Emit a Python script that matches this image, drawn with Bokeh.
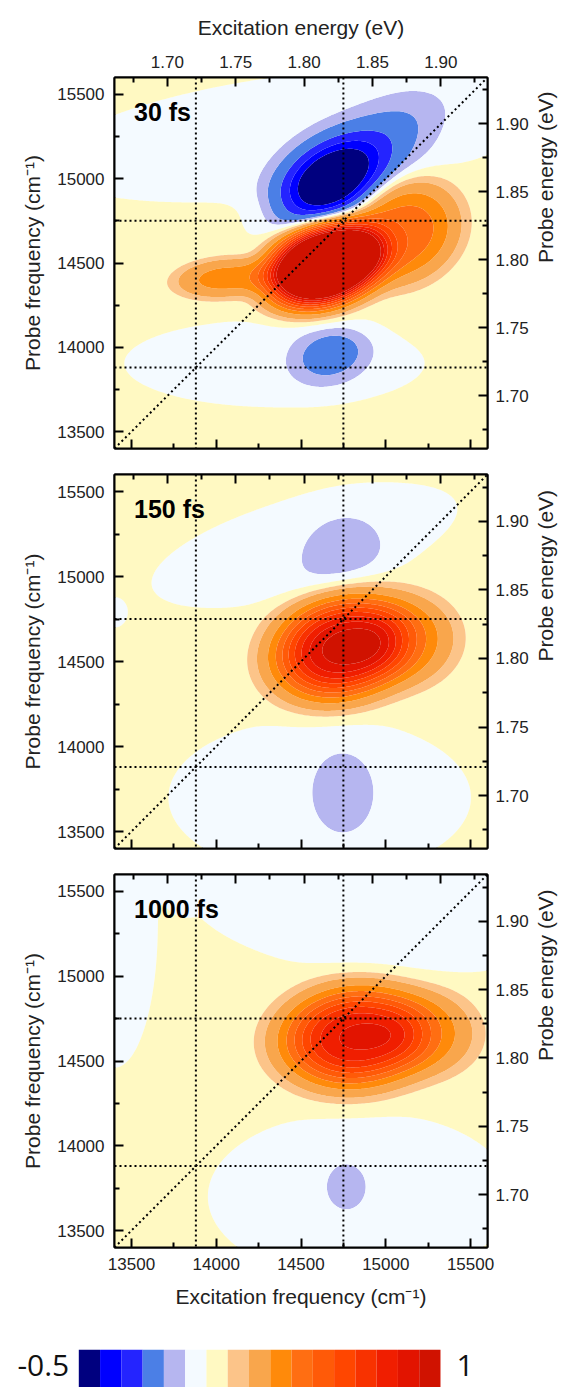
import numpy as np
from bokeh.plotting import figure
from bokeh.models import LinearAxis, Range1d, FixedTicker, PrintfTickFormatter, CustomJSTickFormatter, Span, Slope, Label
from bokeh.layouts import column
from bokeh.embed import file_html
from bokeh.resources import INLINE
from bokeh.core.properties import value

CM_PER_EV = 8065.544

# contour levels (colour bar runs from -0.5 to 1)
LEVELS = [-0.5, -0.4, -0.3, -0.2, -0.1, -0.05, 0.0, 0.05, 0.1, 0.2, 0.3, 0.4, 0.5, 0.6, 0.7, 0.8, 0.9, 1.0]
PALETTE = ["#00007f", "#0000ff", "#2424ff", "#4b7fe6", "#b6b6f0", "#f4faff",
           "#fff9c2", "#fcc489", "#f9a64c", "#ff8a0a", "#ff6e12", "#ff5a08",
           "#ff4600", "#f83200", "#f01e00", "#e21400", "#d01200"]

FREQ_RANGE = [13400, 15600]
FREQ_TICKS = [13500, 14000, 14500, 15000, 15500]
FREQ_MINOR = [13750, 14250, 14750, 15250]
EV_TICKS = [1.70, 1.75, 1.80, 1.85, 1.90]
EV_MINOR = [1.675, 1.725, 1.775, 1.825, 1.875, 1.925]
GUIDE_EXC = [13880, 14750]
GUIDE_PROBE = [13880, 14750]
DELAYS = ["30 fs", "150 fs", "1000 fs"]
BASELINE = [0.012, 0.012, 0.012]

# spectral components: amplitude, centre (exc, probe), widths, tilt, shape
A30 = [1.80, 0.35, 0.22, -0.62, -0.12, -0.15, -0.032, -0.032]
X30 = [14645, 15100, 14050, 14670, 14950, 14675, 14500, 14343]
Y30 = [14490, 14680, 14410, 14985, 15200, 13955, 15260, 13905]
SX30 = [230, 230, 200, 205, 280, 150, 1064, 628]
SY30 = [150, 190, 80, 135, 140, 104, 255, 184]
TH30 = [20, 30, 5, 32, 35, 15, 7, 0]
P30 = [1.5, 1.5, 1.5, 1.0, 1.0, 1.0, 3, 3]

A150 = [0.92, 0.22, -0.065, -0.065, -0.032, -0.032, -0.032]
X150 = [14740, 15120, 14741, 14747, 14520, 14610, 13400]
Y150 = [14580, 14620, 15125, 13729, 15180, 13700, 14788]
SX150 = [265, 200, 198, 145, 660, 633, 55]
SY150 = [190, 170, 170, 190, 202, 330, 63]
TH150 = [15, 10, 30, 0, 15, 0, 0]
P150 = [1.4, 1.3, 1.0, 1.0, 3, 3, 2]

A1000 = [0.80, 0.18, -0.065, -0.032, -0.045, -0.032, -0.032]
X1000 = [14820, 15250, 14767, 14850, 14950, 13400, 13800]
Y1000 = [14640, 14660, 13758, 13700, 15470, 15300, 15650]
SX1000 = [285, 200, 92, 638, 780, 181, 110]
SY1000 = [190, 160, 107, 356, 318, 596, 200]
TH1000 = [5, 0, 0, 0, -5, 0, 0]
P1000 = [1.4, 1.3, 1.0, 3, 3, 3, 3]

PANELS = [
    (A30, X30, Y30, SX30, SY30, TH30, P30),
    (A150, X150, Y150, SX150, SY150, TH150, P150),
    (A1000, X1000, Y1000, SX1000, SY1000, TH1000, P1000),
]

XS = np.linspace(FREQ_RANGE[0], FREQ_RANGE[1], 221)
YS = np.linspace(FREQ_RANGE[0], FREQ_RANGE[1], 221)
GX, GY = np.meshgrid(XS, YS)


def field(comps, base):
    z = np.full(GX.shape, base, dtype=float)
    for a, x0, y0, sx, sy, th, pw in zip(*comps):
        t = np.deg2rad(th)
        dx = GX - x0
        dy = GY - y0
        u = dx * np.cos(t) + dy * np.sin(t)
        v = -dx * np.sin(t) + dy * np.cos(t)
        q = 0.5 * ((u / sx) ** 2 + (v / sy) ** 2)
        z += a * np.exp(-q ** pw)
    return np.clip(z, LEVELS[0] + 1e-4, LEVELS[-1] - 1e-4)


TICK_FONT = "Liberation Sans"
TICK_SIZE = "17px"
TITLE_SIZE = "21px"


def style_axis(ax, ticks, minor, fmt, show_labels, title=None, standoff=10, title_standoff=10):
    ax.ticker = FixedTicker(ticks=ticks, minor_ticks=minor)
    ax.axis_line_color = "black"
    ax.axis_line_width = 2
    ax.major_tick_in = 9
    ax.major_tick_out = 0
    ax.minor_tick_in = 5
    ax.minor_tick_out = 0
    ax.major_tick_line_width = 2
    ax.minor_tick_line_width = 2
    ax.major_tick_line_color = "black"
    ax.minor_tick_line_color = "black"
    ax.major_label_text_font = TICK_FONT
    ax.major_label_text_font_size = TICK_SIZE
    ax.major_label_text_color = "#222222"
    if show_labels:
        ax.formatter = fmt
        ax.major_label_standoff = standoff
    else:
        ax.formatter = CustomJSTickFormatter(code="return ''")
        ax.major_label_standoff = 0
    if title:
        ax.axis_label = title
        ax.axis_label_text_font = TICK_FONT
        ax.axis_label_text_font_size = TITLE_SIZE
        ax.axis_label_text_font_style = "normal"
        ax.axis_label_text_color = "#222222"
        ax.axis_label_standoff = title_standoff


def make_panel(idx, height, top, bottom):
    p = figure(width=572, height=height,
               x_range=Range1d(FREQ_RANGE[0], FREQ_RANGE[1]),
               y_range=Range1d(FREQ_RANGE[0], FREQ_RANGE[1]),
               x_axis_type=None, y_axis_type=None,
               output_backend="svg", toolbar_location=None,
               min_border_left=114, min_border_right=85,
               min_border_top=top, min_border_bottom=bottom,
               outline_line_color="black", outline_line_width=2,
               background_fill_color="white", border_fill_color="white")
    ev_lo = FREQ_RANGE[0] / CM_PER_EV
    ev_hi = FREQ_RANGE[1] / CM_PER_EV
    p.extra_x_ranges = {"ev": Range1d(ev_lo, ev_hi)}
    p.extra_y_ranges = {"ev": Range1d(ev_lo, ev_hi)}

    z = field(PANELS[idx], BASELINE[idx])
    p.contour(x=XS, y=YS, z=z, levels=LEVELS, fill_color=PALETTE, line_color=None)

    for v in GUIDE_EXC:
        p.add_layout(Span(location=v, dimension="height", line_color="black",
                          line_dash="2 3", line_width=2))
    for v in GUIDE_PROBE:
        p.add_layout(Span(location=v, dimension="width", line_color="black",
                          line_dash="2 3", line_width=2))
    p.add_layout(Slope(gradient=1, y_intercept=0, line_color="black",
                       line_dash="2 3", line_width=2))

    p.add_layout(Label(x=13515, y=15480, text=DELAYS[idx], text_font=TICK_FONT,
                       text_font_style="bold", text_font_size="25px",
                       text_baseline="top", text_color="black"))

    cm_fmt = PrintfTickFormatter(format="%d")
    ev_fmt = PrintfTickFormatter(format="%.2f")

    left = LinearAxis()
    style_axis(left, FREQ_TICKS, FREQ_MINOR, cm_fmt, True,
               "Probe frequency (cm\u207b\u00b9)", standoff=10, title_standoff=10)
    p.add_layout(left, "left")

    right = LinearAxis(y_range_name="ev")
    style_axis(right, EV_TICKS, EV_MINOR, ev_fmt, True,
               "Probe energy (eV)", standoff=8, title_standoff=14)
    right.axis_label_orientation = np.pi / 2
    p.add_layout(right, "right")

    top_ax = LinearAxis(x_range_name="ev")
    style_axis(top_ax, EV_TICKS, EV_MINOR, ev_fmt, idx == 0,
               "Excitation energy (eV)" if idx == 0 else None, standoff=10, title_standoff=14)
    p.add_layout(top_ax, "above")

    bot = LinearAxis()
    style_axis(bot, FREQ_TICKS, FREQ_MINOR, cm_fmt, idx == 2,
               "Excitation frequency (cm\u207b\u00b9)" if idx == 2 else None,
               standoff=10, title_standoff=12)
    p.add_layout(bot, "below")
    return p


f1 = make_panel(0, 461, 77, 13)
f2 = make_panel(1, 400, 13, 13)
f3 = make_panel(2, 459, 13, 73)

# colour bar: equal-width boxes, one per contour interval
n_box = len(PALETTE)
cb = figure(width=572, height=67, x_range=Range1d(-3.68, 23.205), y_range=Range1d(0, 67),
            x_axis_type=None, y_axis_type=None, output_backend="svg", toolbar_location=None,
            min_border=0, min_border_left=0, min_border_right=0, min_border_top=0,
            min_border_bottom=0, outline_line_color=None, background_fill_color="white",
            border_fill_color="white")
cb.frame_align = False
box_idx = np.arange(n_box)
cb.quad(left=box_idx, right=box_idx + 1, bottom=0, top=37.7, fill_color=PALETTE, line_color=None)
cb.text(x=[-0.45], y=[22], text=[f"{LEVELS[0]:g}"], text_align="right", text_baseline="middle",
        text_font=value("Open Sans"), text_font_size="30px", text_color="#111111")
cb.text(x=[n_box + 0.75], y=[22], text=[f"{LEVELS[-1]:g}"], text_align="left", text_baseline="middle",
        text_font=value("Open Sans"), text_font_size="30px", text_color="#111111")

layout = column(f1, f2, f3, cb, spacing=0)
open("out.html", "w").write(file_html(layout, INLINE))
